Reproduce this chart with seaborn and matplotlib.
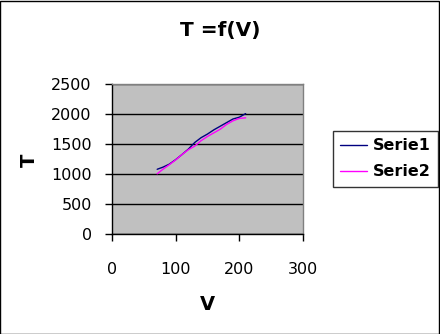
import matplotlib
matplotlib.use("Agg")
import matplotlib.pyplot as plt
import seaborn as sns
import pandas as pd
from matplotlib.lines import Line2D

V1 = [71, 80, 90, 100, 110, 120, 130, 140, 150, 160, 170, 180, 190, 200, 210]
T1 = [1075, 1110, 1160, 1235, 1320, 1410, 1520, 1600, 1660, 1730, 1790, 1850, 1910, 1940, 2000]
V2 = [71, 80, 90, 100, 110, 120, 130, 140, 150, 160, 170, 180, 190, 200, 210]
T2 = [1000, 1075, 1150, 1230, 1320, 1400, 1460, 1550, 1620, 1680, 1740, 1820, 1880, 1920, 1930]
series_names = ["Serie1", "Serie2"]
colors = ["#000080", "#FF00FF"]
xticks = [0, 100, 200, 300]
yticks = [0, 500, 1000, 1500, 2000, 2500]

sns.set_style("white")
plt.rcParams['font.family'] = ['DejaVu Sans']
plt.rcParams.update({"text.color": "black", "axes.labelcolor": "black",
                     "xtick.color": "black", "ytick.color": "black"})

df = pd.concat([
    pd.DataFrame({"V": V1, "T": T1, "s": series_names[0]}),
    pd.DataFrame({"V": V2, "T": T2, "s": series_names[1]}),
])

fig = plt.figure(figsize=(4.4, 3.34), dpi=100)
fig.patch.set_facecolor("white")
ax = fig.add_axes([0.2545, 0.2994, 0.434, 0.4506])
ax.set_facecolor("#C0C0C0")
sns.lineplot(data=df, x="V", y="T", hue="s", palette=colors, ax=ax, linewidth=1, sort=False, legend=False)

ax.set_xlim(0, 300)
ax.set_ylim(0, 2500)
ax.set_xticks(xticks)
ax.set_yticks(yticks)
ax.set_xticklabels([str(t) for t in xticks], fontsize=11.5)
ax.set_yticklabels([str(t) for t in yticks], fontsize=11.5)
ax.tick_params(axis="both", direction="out", length=5, width=1, color="black",
               labelcolor="black", bottom=True, left=True)
ax.tick_params(axis="y", pad=9.5)
ax.tick_params(axis="x", pad=15)
ax.grid(axis="y", color="black", linewidth=1)
ax.set_axisbelow(True)
for side in ["left", "bottom"]:
    ax.spines[side].set_color("black")
    ax.spines[side].set_linewidth(1)
for side in ["top", "right"]:
    ax.spines[side].set_color("#808080")
    ax.spines[side].set_linewidth(1)

ax.set_xlabel("V", fontsize=14, fontweight="bold", color="black")
ax.xaxis.set_label_coords(207 / 440, 1 - 304.5 / 334, transform=fig.transFigure)
ax.xaxis.label.set_va("center")
ax.set_ylabel("T", fontsize=14, fontweight="bold", rotation=90, color="black")
ax.yaxis.set_label_coords(29 / 440, 1 - 160 / 334, transform=fig.transFigure)
ax.yaxis.label.set_va("center")
fig.text(220 / 440, 1 - 30.5 / 334, "T =f(V)", ha="center", va="center", fontsize=14.5,
         fontweight="bold", color="black")

handles = [Line2D([0], [0], color=c, lw=1) for c in colors]
leg = fig.legend(handles, series_names, loc="upper left", bbox_to_anchor=(333 / 440, 1 - 131 / 334),
                 frameon=True, fancybox=False, shadow=False, handlelength=1.67, borderaxespad=0,
                 prop={"weight": "bold", "size": 11.5}, borderpad=0.45, labelspacing=0.7,
                 handletextpad=0.375, labelcolor="black")
leg.get_frame().set_edgecolor("black")
leg.get_frame().set_linewidth(1)

border = plt.Rectangle((0.001, 0.001), 0.997, 0.997, transform=fig.transFigure,
                       fill=False, edgecolor="black", linewidth=1)
fig.patches.append(border)

fig.savefig("out.png", dpi=100)
